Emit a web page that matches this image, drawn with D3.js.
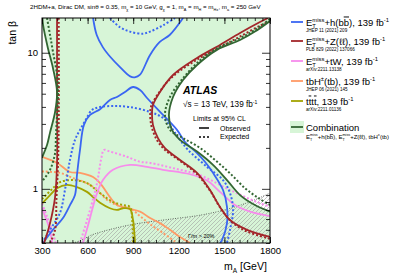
<!DOCTYPE html>
<html>
<head>
<meta charset="utf-8">
<script src="https://cdn.jsdelivr.net/npm/d3@7"></script>
<style>
  body { margin: 0; background: #fff; }
  svg { display: block; }
  text { font-family: "Liberation Sans", Arial, Helvetica, sans-serif; fill: #000; white-space: pre; }
</style>
</head>
<body>
<svg id="chart" width="407" height="275"></svg>
<script>
// tick labels
var massTicks = [300, 600, 900, 1200, 1500, 1800];
var tanbTicks = [1, 10];
var tanbMinor = [0.4, 0.5, 0.6, 0.7, 0.8, 0.9, 2, 3, 4, 5, 6, 7, 8, 9];

// contours, [mA (GeV), tan beta]
var bbObsHigh = [[636,18],[660,13.5],[700,11.0],[750,9.3],[815,7.8],[880,6.7],[910,6.6],[945,6.9],[1010,9.6],[1075,12.0],[1140,13.5],[1228,18]];
var bbExpHigh = [[747,18],[813,15.4],[879,14.3],[964,13.8],[1011,14.3],[1096,15.9],[1175,18]];
var bbObs = [[307,0.40],[372,0.50],[438,0.61],[484,0.76],[517,0.90],[530,1.26],[550,1.93],[576,2.95],[616,3.49],[682,3.85],[747,4.50],[793,4.73],[846,5.15],[899,5.60],[945,5.32],[991,4.65],[1096,3.49],[1188,2.71],[1241,2.21],[1320,1.83],[1372,1.58],[1425,1.31],[1491,0.98],[1517,0.736],[1517,0.56],[1484,0.42],[1471,0.40]];
var bbExp = [[300,0.40],[353,0.50],[418,0.665],[451,0.98],[484,1.63],[517,2.29],[550,2.71],[590,3.25],[629,3.80],[682,3.99],[780,4.06],[879,3.99],[1011,3.67],[1096,3.32],[1155,2.78],[1208,2.29],[1261,1.93],[1386,1.45],[1491,1.16],[1537,0.93],[1557,0.70],[1537,0.50],[1517,0.40]];

var zllObsLeft = [[399,18],[399,4.5],[399,1.55],[386,0.87],[353,0.56],[320,0.42],[313,0.40]];
var zllExpLeft = [[410,18],[410,3.0],[405,1.5],[395,0.85],[386,0.5],[353,0.40]];
var zllObsRight = [[1787,18],[1734,16.8],[1603,13.96],[1471,11.4],[1320,9.15],[1162,6.86],[1076,5.15],[1030,4.13],[1024,3.67],[1030,2.95],[1063,2.36],[1109,1.99],[1208,1.63],[1320,1.31],[1405,0.98],[1471,0.736],[1537,0.59],[1649,0.50],[1800,0.443]];
var zllExpRight = [[1800,17.0],[1740,15.9],[1610,13.3],[1475,11.0],[1320,8.9],[1160,6.7],[1070,5.1],[1020,4.1],[1012,3.6],[1020,2.9],[1055,2.3],[1105,1.95],[1210,1.6],[1320,1.28],[1405,0.97],[1475,0.72],[1545,0.575],[1650,0.485],[1800,0.43]];

var twObsLeft = [[300,0.72],[320,0.63],[340,0.55],[355,0.48],[368,0.40]];
var twExpLeft = [[300,0.78],[330,0.64],[360,0.52],[385,0.42],[390,0.40]];
var twObs = [[570,0.40],[603,0.54],[662,0.93],[701,1.16],[767,1.38],[879,1.50],[991,1.45],[1096,1.38],[1274,1.28],[1386,1.15],[1471,0.95],[1570,0.76],[1668,0.68],[1800,0.63]];
var twExp = [[550,0.40],[616,0.70],[662,1.10],[688,1.63],[708,1.93],[747,1.88],[859,1.72],[945,1.58],[1011,1.55],[1162,1.42],[1339,1.26],[1537,0.98],[1714,0.80],[1800,0.74]];

var tbhObs = [[300,1.72],[399,1.55],[484,1.33],[550,1.31],[636,1.22],[682,1.10],[747,0.87],[793,0.76],[859,0.72],[945,0.68],[1011,0.61],[1076,0.56],[1142,0.50],[1208,0.443],[1274,0.40]];
var tbhExp = [[300,1.34],[418,1.31],[504,1.20],[596,1.10],[662,0.98],[728,0.83],[793,0.76],[879,0.72],[945,0.63],[1011,0.55],[1096,0.474],[1188,0.40]];

var ttttObs = [[300,0.78],[353,0.90],[399,1.01],[464,1.07],[530,1.03],[596,0.95],[636,0.87],[682,0.79],[747,0.72],[793,0.70],[833,0.72],[879,0.71],[899,0.59],[906,0.50],[912,0.40]];
var ttttExp = [[300,0.84],[372,1.01],[418,1.12],[504,1.16],[596,1.10],[682,0.93],[767,0.80],[833,0.76],[879,0.736],[893,0.59],[899,0.40]];

var combObsLeft = [[303,18],[307,16.0],[339,10.8],[372,7.73],[399,5.15],[386,3.67],[353,2.6],[333,2.10],[307,1.77],[300,1.69]];
var combExpLeft = [[333,18],[353,13.5],[372,10.2],[399,6.86],[405,4.89],[399,3.49],[392,2.49],[386,1.83],[353,1.38],[307,1.16],[300,1.14]];
var combObsRight = [[1800,17.1],[1701,14.3],[1603,12.4],[1451,10.5],[1320,8.13],[1228,6.31],[1162,4.73],[1135,3.49],[1155,2.71],[1208,2.29],[1320,1.88],[1425,1.50],[1517,1.16],[1603,0.90],[1701,0.76],[1800,0.68]];
var combExpRight = [[1800,17.7],[1701,14.7],[1603,12.8],[1451,10.8],[1320,8.4],[1228,6.5],[1142,4.73],[1109,3.49],[1142,2.71],[1228,2.36],[1339,2.0],[1438,1.63],[1537,1.3],[1636,1.01],[1721,0.86],[1800,0.76]];

var widthLimit = [[504,0.40],[560,0.42],[620,0.455],[682,0.48],[800,0.52],[945,0.56],[1150,0.60],[1339,0.64],[1500,0.70],[1650,0.79],[1800,0.93]];

var blue = "#3a66f2", red = "#a3262a", pink = "#f78cec", orange = "#ff9a66", olive = "#a3a300", dgreen = "#336633", lgreen = "#d7f5d7";

var svg = d3.select("#chart");
var x0 = 42, x1 = 270, y0 = 243, y1 = 18;
var x = d3.scaleLinear().domain([300, 1800]).range([x0, x1]);
var y = d3.scaleLog().domain([0.4, 18]).range([y0, y1]);

var line = d3.line().x(function(d) { return x(d[0]); }).y(function(d) { return y(d[1]); }).curve(d3.curveCatmullRom.alpha(0.5));

var defs = svg.append("defs");
defs.append("clipPath").attr("id", "plotclip").append("rect")
  .attr("x", x0).attr("y", y1).attr("width", x1 - x0).attr("height", y0 - y1);
var pat = defs.append("pattern").attr("id", "hatch").attr("patternUnits", "userSpaceOnUse")
  .attr("width", 4).attr("height", 4);
pat.append("path").attr("d", "M-1,1 L1,-1 M0,4 L4,0 M3,5 L5,3")
  .attr("stroke", "#9a9a9a").attr("stroke-width", 0.55);

var plot = svg.append("g").attr("clip-path", "url(#plotclip)");

// excluded by combination -> green, allowed -> white
plot.append("rect").attr("x", x0).attr("y", y1).attr("width", x1 - x0).attr("height", y0 - y1).attr("fill", lgreen);
plot.append("path").attr("fill", "#fff")
  .attr("d", line([[300, 18]].concat(combObsLeft)) + "L" + x0 + "," + y1 + "Z");
plot.append("path").attr("fill", "#fff")
  .attr("d", line(combObsRight) + "L" + (x1 + 2) + "," + y(0.68) + "L" + (x1 + 2) + "," + (y1 - 2) + "Z");

// width > 20% region
plot.append("path").attr("fill", "url(#hatch)")
  .attr("d", line(widthLimit) + "L" + x1 + "," + y0 + "L" + x(504) + "," + y0 + "Z");
plot.append("path").attr("fill", "none").attr("stroke", "#222").attr("stroke-width", 0.8)
  .attr("stroke-dasharray", "0.8,1.6").attr("d", line(widthLimit));

function contour(data, color, expected) {
  plot.append("path").attr("fill", "none").attr("stroke", color)
    .attr("stroke-width", expected ? 2 : 1.8)
    .attr("stroke-dasharray", expected ? "2,2" : null)
    .attr("d", line(data));
}

[[tbhExp, orange, 1], [tbhObs, orange, 0],
 [ttttExp, olive, 1], [ttttObs, olive, 0],
 [twExpLeft, pink, 1], [twObsLeft, pink, 0], [twExp, pink, 1], [twObs, pink, 0],
 [bbExpHigh, blue, 1], [bbObsHigh, blue, 0], [bbExp, blue, 1], [bbObs, blue, 0],
 [zllExpLeft, red, 1], [zllObsLeft, red, 0], [zllExpRight, red, 1], [zllObsRight, red, 0],
 [combExpLeft, dgreen, 1], [combObsLeft, dgreen, 0], [combExpRight, dgreen, 1], [combObsRight, dgreen, 0]
].forEach(function(c) { contour(c[0], c[1], c[2]); });

// axes, ticks inside on all four sides
var minorMass = d3.range(300, 1801, 50);
function tickAxis(axis, tr, vals, size, labels) {
  var g = svg.append("g").attr("transform", tr)
    .call(axis.tickValues(vals).tickSize(size).tickSizeOuter(0).tickPadding(4)
      .tickFormat(labels ? d3.format("d") : ""));
  g.select(".domain").remove();
  g.selectAll("line").attr("stroke", "#000").attr("stroke-width", 0.8);
  g.selectAll("text").attr("font-size", 9.5).attr("font-family", "Liberation Sans, Arial, sans-serif");
  return g;
}
tickAxis(d3.axisBottom(x), "translate(0," + y0 + ")", minorMass, -3, false);
tickAxis(d3.axisBottom(x), "translate(0," + y0 + ")", massTicks, -6, true);
tickAxis(d3.axisTop(x), "translate(0," + y1 + ")", minorMass, -3, false);
tickAxis(d3.axisTop(x), "translate(0," + y1 + ")", massTicks, -6, false);
tickAxis(d3.axisLeft(y), "translate(" + x0 + ",0)", tanbMinor, -4, false);
tickAxis(d3.axisLeft(y), "translate(" + x0 + ",0)", tanbTicks, -8, true);
tickAxis(d3.axisRight(y), "translate(" + x1 + ",0)", tanbMinor, -4, false);
tickAxis(d3.axisRight(y), "translate(" + x1 + ",0)", tanbTicks, -8, false);

svg.append("rect").attr("x", x0).attr("y", y1).attr("width", x1 - x0).attr("height", y0 - y1)
  .attr("fill", "none").attr("stroke", "#000").attr("stroke-width", 1);

// text with sub / superscripts
function richText(px, py, parts, size) {
  var cx = px;
  parts.forEach(function(p) {
    if (typeof p === "string") p = { t: p };
    if (p.t !== undefined) {
      var t = svg.append("text").attr("x", cx).attr("y", py).attr("font-size", size).text(p.t);
      if (p.over) t.style("text-decoration", "overline");
      cx += t.node().getComputedTextLength();
    } else {
      var w = 0, s = size * 0.62;
      if (p.sup) {
        var a = svg.append("text").attr("x", cx).attr("y", py - size * 0.42).attr("font-size", s).text(p.sup);
        w = Math.max(w, a.node().getComputedTextLength());
      }
      if (p.sub) {
        var b = svg.append("text").attr("x", cx).attr("y", py + size * 0.25).attr("font-size", s).text(p.sub);
        w = Math.max(w, b.node().getComputedTextLength());
      }
      cx += w;
    }
  });
  return cx;
}

var met = { sup: "miss", sub: "T" };
richText(30, 9, ["2HDM+a, Dirac DM, sin\u03b8 = 0.35, m", { sub: "\u03c7" }, " = 10 GeV, g", { sub: "\u03c7" },
  " = 1, m", { sub: "A" }, " = m", { sub: "H" }, " = m", { sub: "H\u00b1" }, ", m", { sub: "a" }, " = 250 GeV"], 6.2);

var legend = [
  { color: blue, y: 22, parts: ["E", met, "+h(b", { t: "b", over: 1 }, "), 139 fb", { sup: "-1" }], ref: "JHEP 11 (2021) 209" },
  { color: red, y: 41, parts: ["E", met, "+Z(\u2113\u2113), 139 fb", { sup: "-1" }], ref: "PLB 829 (2022) 137066" },
  { color: pink, y: 61, parts: ["E", met, "+tW, 139 fb", { sup: "-1" }], ref: "arXiv:2211.13138" },
  { color: orange, y: 81, parts: ["tbH", { sup: "\u00b1" }, "(tb), 139 fb", { sup: "-1" }], ref: "JHEP 06 (2021) 145" },
  { color: olive, y: 101, parts: ["t", { t: "t", over: 1 }, "t", { t: "t", over: 1 }, ", 139 fb", { sup: "-1" }], ref: "arXiv:2211.01136" }
];
legend.forEach(function(l) {
  svg.append("line").attr("x1", 291).attr("x2", 303).attr("y1", l.y).attr("y2", l.y)
    .attr("stroke", l.color).attr("stroke-width", 1.8);
  richText(306, l.y + 3.5, l.parts, 9.5);
  svg.append("text").attr("x", 306).attr("y", l.y + 10).attr("font-size", 4.6).text(l.ref);
});
svg.append("rect").attr("x", 290).attr("y", 121).attr("width", 14).attr("height", 12).attr("fill", lgreen);
svg.append("line").attr("x1", 291).attr("x2", 303).attr("y1", 127).attr("y2", 127)
  .attr("stroke", dgreen).attr("stroke-width", 1.8);
richText(306, 130.5, ["Combination"], 9.5);
richText(306, 139, ["E", met, "+h(b", { t: "b", over: 1 }, "), E", met, "+Z(\u2113\u2113), tbH", { sup: "\u00b1" }, "(tb)"], 6);

// ATLAS label
svg.append("text").attr("x", 183).attr("y", 94).attr("font-size", 10.5)
  .attr("font-weight", "bold").attr("font-style", "italic").text("ATLAS");
richText(183, 107, ["\u221as = 13 TeV, 139 fb", { sup: "-1" }], 8.2);
svg.append("text").attr("x", 193).attr("y", 121).attr("font-size", 7).text("Limits at 95% CL");
svg.append("line").attr("x1", 199).attr("x2", 209).attr("y1", 128).attr("y2", 128).attr("stroke", "#000").attr("stroke-width", 1.5);
svg.append("line").attr("x1", 199).attr("x2", 209).attr("y1", 137).attr("y2", 137).attr("stroke", "#000")
  .attr("stroke-width", 1.5).attr("stroke-dasharray", "2,2");
svg.append("text").attr("x", 220).attr("y", 130.5).attr("font-size", 7).text("Observed");
svg.append("text").attr("x", 220).attr("y", 139).attr("font-size", 7).text("Expected");
svg.append("text").attr("x", 188).attr("y", 238).attr("font-size", 5.5).text("\u0393/m > 20%");

// axis titles
richText(224, 270, ["m", { sub: "A" }, " [GeV]"], 10.5);
svg.append("text").attr("transform", "translate(16,21) rotate(-90)").attr("text-anchor", "end")
  .attr("font-size", 10.5).text("tan \u03b2");
</script>
</body>
</html>
